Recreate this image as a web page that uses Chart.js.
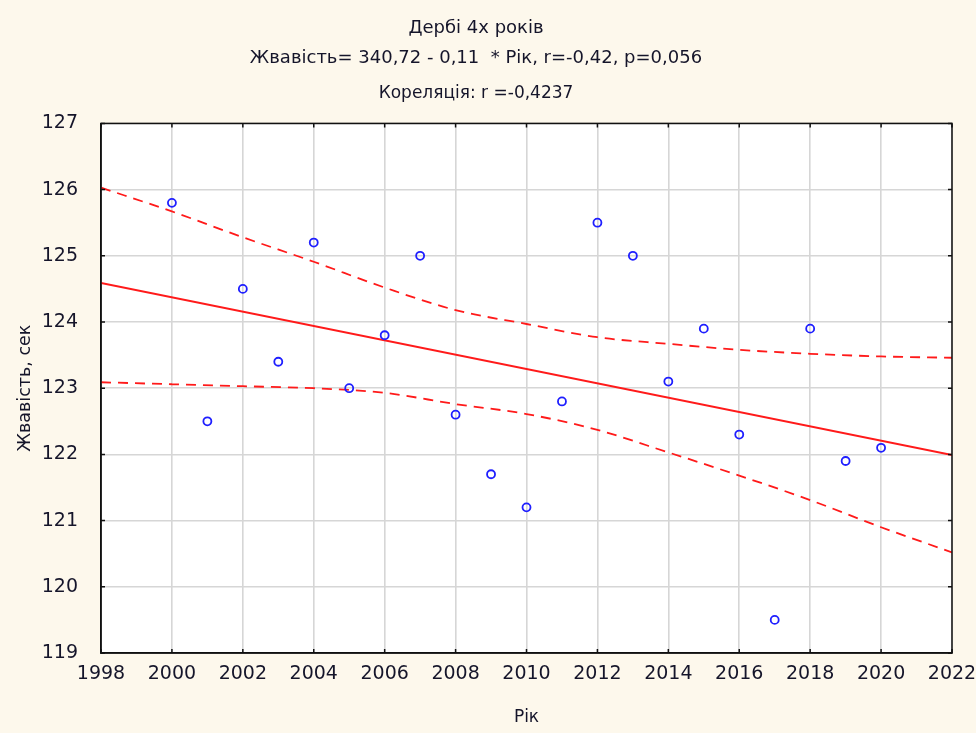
<!DOCTYPE html>
<html>
<head>
<meta charset="utf-8">
<script src="https://cdn.jsdelivr.net/npm/chart.js@4"></script>
<style>
  body { margin: 0; background: #FDF8EC; }
  #wrap { width: 976px; height: 733px; }
</style>
</head>
<body>
<div id="wrap"><canvas id="derbyChart" width="976" height="733"></canvas></div>
<script>
// Data
const years = [2000, 2001, 2002, 2003, 2004, 2005, 2006, 2007, 2008, 2009, 2010,
               2011, 2012, 2013, 2014, 2015, 2016, 2017, 2018, 2019, 2020];
const speed = [125.8, 122.5, 124.5, 123.4, 125.2, 123.0, 123.8, 125.0, 122.6, 121.7, 121.2,
               122.8, 125.5, 125.0, 123.1, 123.9, 122.3, 119.5, 123.9, 121.9, 122.1];

// Fitted line, read at the plot edges
const fitYears = [1998, 2022];
const fitValues = [124.59, 121.99];

// 95% confidence band, read every two years
const bandYears = [1998, 2000, 2002, 2004, 2006, 2008, 2010, 2012, 2014, 2016, 2018, 2020, 2022];
const upperBand = [126.03, 125.67, 125.28, 124.91, 124.52, 124.18, 123.97, 123.77, 123.67, 123.58, 123.52, 123.48, 123.46];
const lowerBand = [123.09, 123.06, 123.03, 123.00, 122.93, 122.76, 122.61, 122.37, 122.03, 121.68, 121.31, 120.90, 120.52];

const xMin = 1998, xMax = 2022, xStep = 2;
const yMin = 119, yMax = 127, yStep = 1;

const FONT = "'DejaVu Sans', sans-serif";
const TEXT = '#15152a';
const RED = '#ff1a1a';
const BLUE = '#1f1fff';

const toPoints = (xs, ys) => xs.map((x, i) => ({ x: x, y: ys[i] }));

// White plot area, frame on top/right and inward tick marks (as in the original)
const framePlugin = {
    id: 'frame',
    beforeDraw(chart) {
        const { ctx, chartArea: a } = chart;
        ctx.save();
        ctx.fillStyle = '#ffffff';
        ctx.fillRect(a.left, a.top, a.right - a.left, a.bottom - a.top);
        ctx.restore();
    },
    afterDraw(chart) {
        const { ctx, chartArea: a, scales } = chart;
        ctx.save();
        ctx.strokeStyle = '#111';
        ctx.lineWidth = 1.5;
        ctx.strokeRect(a.left, a.top, a.right - a.left, a.bottom - a.top);
        ctx.beginPath();
        scales.x.ticks.forEach(t => {
            const px = scales.x.getPixelForValue(t.value);
            ctx.moveTo(px, a.bottom); ctx.lineTo(px, a.bottom - 4);
            ctx.moveTo(px, a.top); ctx.lineTo(px, a.top + 4);
        });
        scales.y.ticks.forEach(t => {
            const py = scales.y.getPixelForValue(t.value);
            ctx.moveTo(a.left, py); ctx.lineTo(a.left + 4, py);
            ctx.moveTo(a.right, py); ctx.lineTo(a.right - 4, py);
        });
        ctx.stroke();
        ctx.restore();
    }
};

const config = {
    type: 'scatter',
    data: {
        datasets: [
            {
                label: 'Жвавість',
                data: toPoints(years, speed),
                pointStyle: 'circle',
                pointRadius: 4,
                pointBorderWidth: 1.8,
                borderColor: BLUE,
                backgroundColor: 'rgba(0,0,0,0)',
                order: 0
            },
            {
                type: 'line',
                label: 'Регресія',
                data: toPoints(fitYears, fitValues),
                borderColor: RED,
                borderWidth: 2,
                pointRadius: 0,
                fill: false,
                order: 1
            },
            {
                type: 'line',
                label: 'Верхня межа',
                data: toPoints(bandYears, upperBand),
                borderColor: RED,
                borderWidth: 1.8,
                borderDash: [10, 7],
                cubicInterpolationMode: 'monotone',
                pointRadius: 0,
                fill: false,
                order: 2
            },
            {
                type: 'line',
                label: 'Нижня межа',
                data: toPoints(bandYears, lowerBand),
                borderColor: RED,
                borderWidth: 1.8,
                borderDash: [10, 7],
                cubicInterpolationMode: 'monotone',
                pointRadius: 0,
                fill: false,
                order: 2
            }
        ]
    },
    options: {
        responsive: false,
        animation: false,
        layout: { padding: { top: 0, left: 0, right: 24, bottom: 0 } },
        plugins: {
            legend: { display: false },
            tooltip: { enabled: false },
            title: {
                display: true,
                text: ['Дербі 4х років', 'Жвавість= 340,72 - 0,11  * Рік, r=-0,42, p=0,056'],
                color: TEXT,
                font: { family: FONT, size: 18, weight: 'normal', lineHeight: 1.667 },
                padding: { top: 13, bottom: 0 }
            },
            subtitle: {
                display: true,
                text: 'Кореляція: r =-0,4237',
                color: TEXT,
                font: { family: FONT, size: 17, weight: 'normal', lineHeight: 1.2 },
                padding: { top: 10.8, bottom: 19.2 }
            }
        },
        scales: {
            x: {
                type: 'linear',
                min: xMin,
                max: xMax,
                afterFit(scale) {
                    scale.height = 80;
                    scale.paddingLeft = 0;
                    scale.paddingRight = 0;
                },
                ticks: {
                    stepSize: xStep,
                    autoSkip: false,
                    maxRotation: 0,
                    color: TEXT,
                    padding: 10,
                    font: { family: FONT, size: 19 },
                    callback: v => String(v)
                },
                grid: { color: '#d6d6d6', lineWidth: 1.6, drawTicks: false },
                border: { display: true, color: '#111', width: 1.5 },
                title: {
                    display: true,
                    text: 'Рік',
                    color: TEXT,
                    font: { family: FONT, size: 17 },
                    padding: { top: 0, bottom: 4.8 }
                }
            },
            y: {
                type: 'linear',
                min: yMin,
                max: yMax,
                afterFit(scale) { scale.width = 101; },
                ticks: {
                    stepSize: yStep,
                    color: TEXT,
                    padding: 23,
                    font: { family: FONT, size: 19 },
                    callback: v => String(v)
                },
                grid: { color: '#d6d6d6', lineWidth: 1.6, drawTicks: false },
                border: { display: true, color: '#111', width: 1.5 },
                title: {
                    display: true,
                    text: 'Жвавість, сек',
                    color: TEXT,
                    font: { family: FONT, size: 17.5 },
                    padding: { top: 14.5, bottom: 0 }
                }
            }
        }
    },
    plugins: [framePlugin]
};

const ctx = document.getElementById('derbyChart').getContext('2d');
new Chart(ctx, config);
</script>
</body>
</html>
